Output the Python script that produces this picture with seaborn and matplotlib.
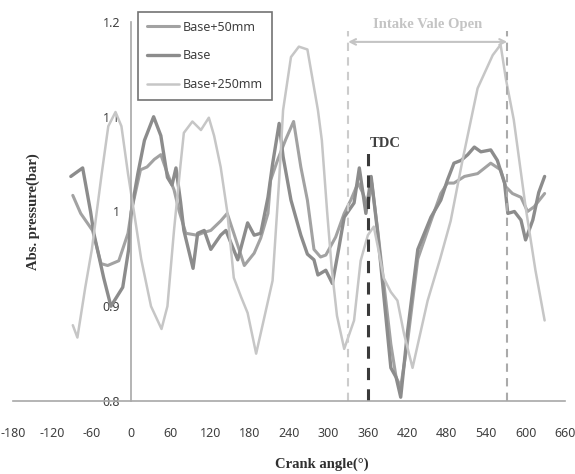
import numpy as np
import pandas as pd
import seaborn as sns
import matplotlib
matplotlib.use("Agg")
import matplotlib.pyplot as plt

# ---- data ----
base_x = [-92, -74, -62, -57, -42, -31, -13, -4, 0, 10, 20, 34, 45, 55, 62, 68, 75, 80, 94, 101,
          111, 121, 136, 144, 162, 177, 187, 197, 208, 215, 225, 231, 243, 258, 268, 278, 284, 296,
          306, 316, 324, 339, 347, 357, 365, 375, 385, 395, 403, 410, 420, 436, 456, 471, 481, 491,
          502, 512, 522, 532, 547, 557, 568, 573, 583, 593, 600, 611, 620, 629]
base_y = [1.037, 1.046, 1.0, 0.977, 0.93, 0.90, 0.92, 0.96, 1.0, 1.04, 1.075, 1.10, 1.08, 1.036,
          1.028, 1.046, 1.01, 0.98, 0.94, 0.977, 0.98, 0.96, 0.975, 0.98, 0.949, 0.988, 0.975, 0.977,
          1.015, 1.05, 1.093, 1.058, 1.012, 0.975, 0.955, 0.949, 0.933, 0.938, 0.924, 0.962, 0.994,
          1.009, 1.046, 0.998, 1.037, 0.977, 0.906, 0.835, 0.825, 0.804, 0.871, 0.96, 0.994, 1.012,
          1.033, 1.051, 1.054, 1.06, 1.068, 1.063, 1.065, 1.054, 1.03, 0.998, 1.0, 0.991, 0.97,
          0.991, 1.02, 1.037]

b50_x = [-89, -77, -59, -46, -36, -19, -5, 0, 14, 24, 35, 45, 55, 65, 73, 83, 100, 111, 121, 136,
         146, 156, 172, 187, 197, 208, 212, 223, 235, 247, 258, 268, 278, 288, 296, 311, 324, 334,
         345, 352, 360, 366, 375, 385, 395, 403, 410, 420, 436, 456, 471, 481, 491, 507, 527, 547,
         562, 570, 580, 593, 603, 613, 629]
b50_y = [1.017, 0.998, 0.98, 0.945, 0.943, 0.948, 0.977, 1.0, 1.044, 1.047, 1.055, 1.06, 1.04,
         1.023, 1.0, 0.977, 0.975, 0.978, 0.98, 0.99, 0.998, 0.977, 0.943, 0.956, 0.972, 0.998,
         1.033, 1.055, 1.076, 1.095, 1.047, 1.012, 0.96, 0.952, 0.954, 0.973, 0.998, 1.012, 1.03,
         1.02, 1.005, 1.03, 0.98, 0.92, 0.86, 0.825, 0.815, 0.86, 0.95, 0.99, 1.019, 1.03, 1.03,
         1.037, 1.04, 1.051, 1.044, 1.026, 1.019, 1.015, 1.0, 1.005, 1.019]

b250_x = [-89, -82, -70, -60, -45, -35, -24, -15, -5, 4, 15, 30, 46, 55, 65, 75, 80, 93, 106, 118,
          126, 136, 146, 156, 167, 177, 190, 203, 215, 225, 231, 243, 255, 268, 284, 290, 298, 305,
          313, 324, 339, 349, 360, 369, 376, 384, 395, 405, 415, 428, 451, 470, 486, 504, 527, 550,
          562, 570, 582, 600, 615, 629]
b250_y = [0.88, 0.867, 0.92, 0.96, 1.04, 1.09, 1.105, 1.09, 1.04, 1.0, 0.95, 0.9, 0.876, 0.9, 0.98,
          1.05, 1.083, 1.095, 1.086, 1.099, 1.08, 1.047, 1.0, 0.93, 0.91, 0.893, 0.85, 0.89, 0.927,
          1.033, 1.107, 1.163, 1.174, 1.171, 1.107, 1.075, 1.0, 0.94, 0.89, 0.855, 0.885, 0.948,
          0.975, 0.984, 0.96, 0.93, 0.915, 0.906, 0.871, 0.835, 0.906, 0.95, 0.99, 1.054, 1.13,
          1.165, 1.176, 1.14, 1.097, 1.005, 0.938, 0.885]

series_names = ["Base+50mm", "Base", "Base+250mm"]
x_ticks = list(range(-180, 661, 60))
y_ticks = [0.8, 0.9, 1.0, 1.1, 1.2]
y_tick_labels = ["0.8", "0.9", "1", "1.1", "1.2"]
tdc_angle = 360
ivo_start, ivo_end = 330, 572

# ---- plotting ----
sns.set_style("white")
plt.rcParams['font.family'] = ['Noto Sans', 'DejaVu Sans']

fig = plt.figure(figsize=(5.75, 4.74), dpi=100)
ax = fig.add_axes([13/575, 73/474, 552/575, 379/474])

df50 = pd.DataFrame({"angle": b50_x, "p": b50_y})
dfb = pd.DataFrame({"angle": base_x, "p": base_y})
df250 = pd.DataFrame({"angle": b250_x, "p": b250_y})

sns.lineplot(data=df50, x="angle", y="p", ax=ax, color="#a2a2a2", lw=2.2,
             estimator=None, label=series_names[0])
sns.lineplot(data=dfb, x="angle", y="p", ax=ax, color="#8c8c8c", lw=2.4,
             estimator=None, label=series_names[1])
sns.lineplot(data=df250, x="angle", y="p", ax=ax, color="#c6c6c6", lw=1.8,
             estimator=None, label=series_names[2])

ax.set_xlim(-180, 660)
ax.set_ylim(0.8, 1.2)
ax.set_xticks(x_ticks)
ax.set_xticklabels([str(t) for t in x_ticks])
ax.set_yticks(y_ticks)
ax.set_yticklabels(y_tick_labels)

for s in ["top", "right"]:
    ax.spines[s].set_visible(False)
ax.spines["left"].set_position(("data", 0))
for s in ["left", "bottom"]:
    ax.spines[s].set_color("#a8a8a8")
    ax.spines[s].set_linewidth(1.2)

ax.tick_params(axis="both", direction="out", length=5, width=1.2, color="#a8a8a8",
               labelsize=9, labelcolor="#404040")
ax.tick_params(axis="x", pad=14)
ax.tick_params(axis="y", pad=3)

# vertical markers
ax.plot([ivo_start, ivo_start], [0.8, 1.19], ls=(0, (4, 3)), color="#cccccc", lw=1.5)
ax.plot([ivo_end, ivo_end], [0.8, 1.19], ls=(0, (4, 3)), color="#aaaaaa", lw=1.5)
ax.plot([tdc_angle, tdc_angle], [0.8, 1.063], ls=(0, (4, 3)), color="#3a3a3a", lw=2.2)

ax.annotate("", xy=(ivo_start, 1.179), xytext=(ivo_end, 1.179),
            arrowprops=dict(arrowstyle="<->", color="#c4c4c4", lw=1.5, shrinkA=0, shrinkB=0))
ax.text((ivo_start + ivo_end) / 2, 1.197, "Intake Vale Open", ha="center", va="center",
        fontsize=10.5, fontweight="bold", family="Liberation Serif", color="#c4c4c4")
ax.text(tdc_angle + 3, 1.072, "TDC", ha="left", va="center", fontsize=10.5,
        fontweight="bold", family="Liberation Serif", color="#404040")

ax.set_xlabel("Crank angle(°)", fontsize=10.5, fontweight="bold", family="Liberation Serif",
              color="#303030")
ax.set_ylabel("Abs. pressure(bar)", fontsize=10.5, fontweight="bold", family="Liberation Serif",
              color="#303030")
ax.xaxis.set_label_coords((322 - 13) / 552, -0.15)
ax.yaxis.set_label_coords((40 - 13) / 552, 0.5)

leg = ax.legend(loc="upper left", bbox_to_anchor=((138 - 13) / 552, (401 - 12) / 379),
                borderaxespad=0, frameon=True, fancybox=False, fontsize=9,
                handlelength=2.6, labelspacing=1.25, handletextpad=0.3, borderpad=0.7)
leg.get_frame().set_edgecolor("#505050")
leg.get_frame().set_linewidth(1.2)
for t in leg.get_texts():
    t.set_color("#404040")

fig.savefig("out.png", dpi=100)
